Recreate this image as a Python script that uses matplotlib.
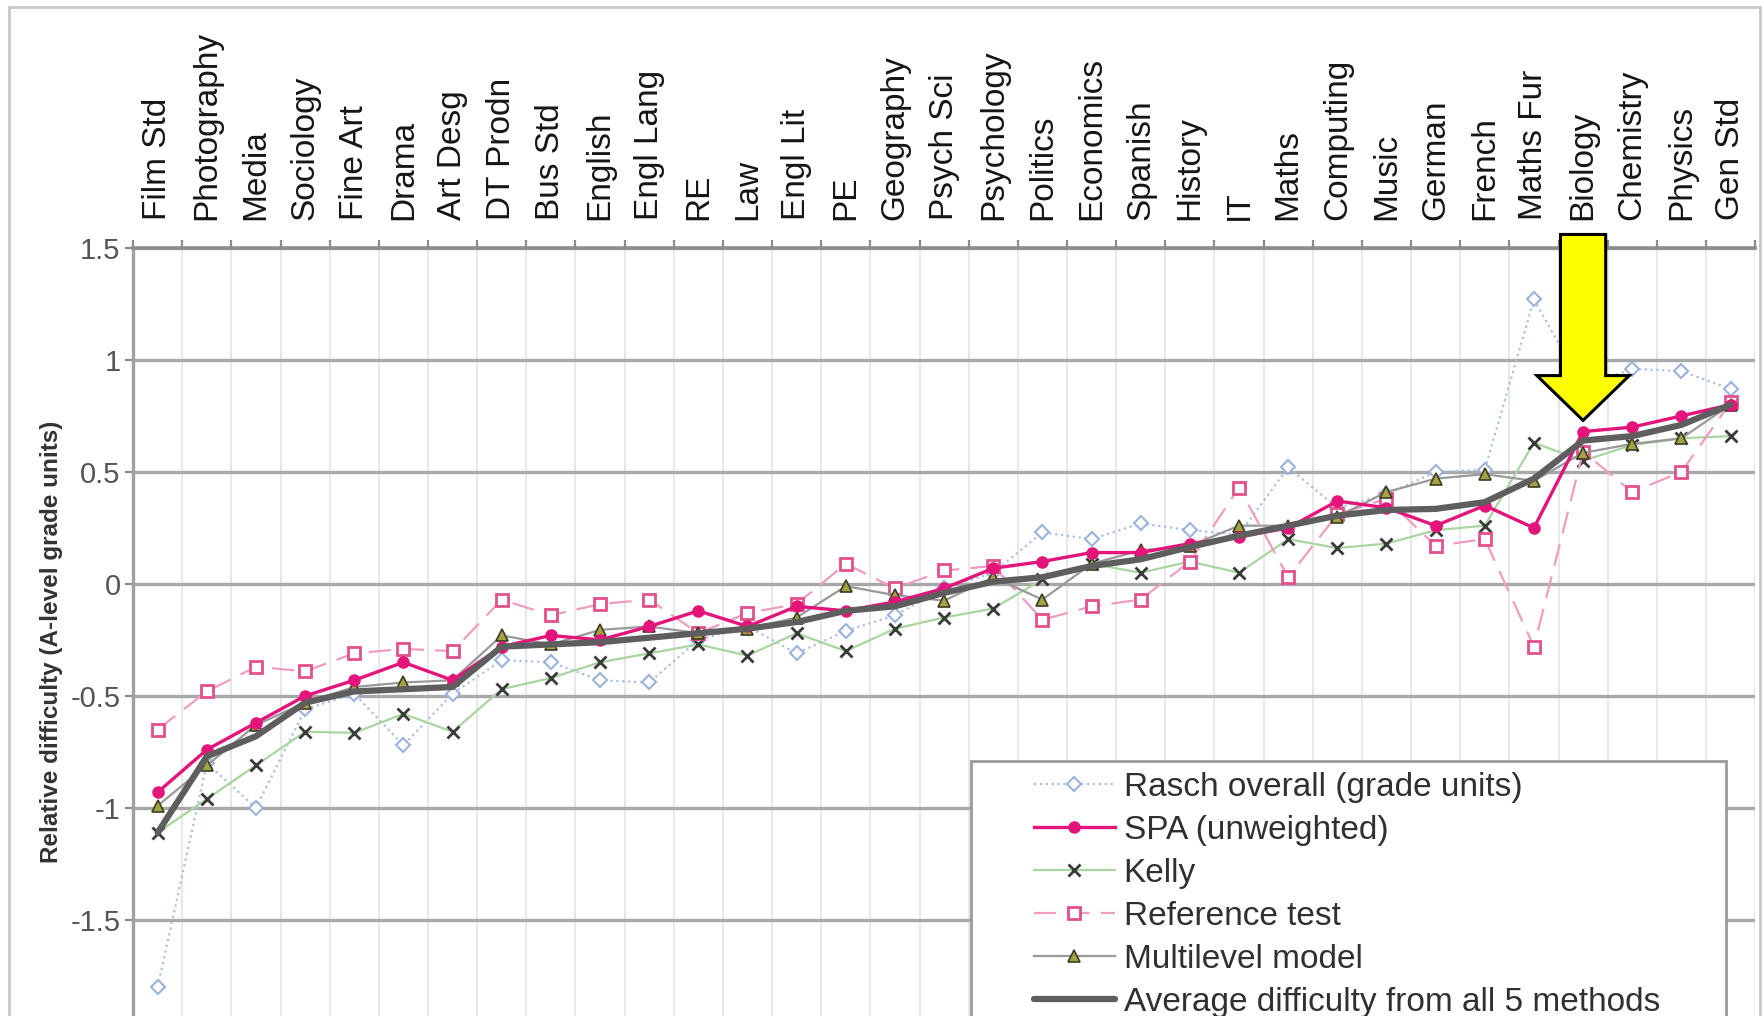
import numpy as np
import matplotlib
matplotlib.use('Agg')
import matplotlib.pyplot as plt
from matplotlib.patches import Rectangle, FancyArrow

plt.rcParams['font.family'] = ['Liberation Sans', 'DejaVu Sans']

# Subjects, easiest to hardest
subjects = ["Film Std", "Photography", "Media", "Sociology", "Fine Art", "Drama",
            "Art Desg", "DT Prodn", "Bus Std", "English", "Engl Lang", "RE", "Law",
            "Engl Lit", "PE", "Geography", "Psych Sci", "Psychology", "Politics",
            "Economics", "Spanish", "History", "IT", "Maths", "Computing", "Music",
            "German", "French", "Maths Fur", "Biology", "Chemistry", "Physics", "Gen Std"]

rasch = [-1.80, -0.80, -1.00, -0.56, -0.49, -0.72, -0.49, -0.34, -0.35, -0.43, -0.44,
         -0.25, -0.19, -0.31, -0.21, -0.14, -0.02, 0.05, 0.23, 0.20, 0.27, 0.24, 0.22,
         0.52, 0.34, 0.40, 0.50, 0.51, 1.27, 0.88, 0.96, 0.95, 0.87]
spa = [-0.93, -0.74, -0.62, -0.50, -0.43, -0.35, -0.43, -0.28, -0.23, -0.25, -0.19,
       -0.12, -0.19, -0.10, -0.12, -0.08, -0.02, 0.07, 0.10, 0.14, 0.14, 0.18, 0.21,
       0.25, 0.37, 0.34, 0.26, 0.35, 0.25, 0.68, 0.70, 0.75, 0.80]
kelly = [-1.11, -0.96, -0.81, -0.66, -0.665, -0.58, -0.66, -0.47, -0.42, -0.35, -0.31,
         -0.27, -0.32, -0.22, -0.30, -0.20, -0.15, -0.11, 0.02, 0.09, 0.05, 0.10, 0.05,
         0.20, 0.16, 0.18, 0.24, 0.26, 0.63, 0.55, 0.62, 0.65, 0.66]
reference = [-0.65, -0.48, -0.37, -0.39, -0.31, -0.29, -0.30, -0.07, -0.14, -0.09, -0.07,
             -0.22, -0.13, -0.09, 0.09, -0.02, 0.06, 0.08, -0.16, -0.10, -0.07, 0.10, 0.43,
             0.03, 0.31, 0.38, 0.17, 0.20, -0.28, 0.59, 0.41, 0.50, 0.81]
multilevel = [-0.99, -0.81, -0.63, -0.53, -0.46, -0.44, -0.43, -0.23, -0.27, -0.205, -0.19,
              -0.22, -0.20, -0.15, -0.01, -0.05, -0.075, 0.03, -0.07, 0.09, 0.15, 0.17, 0.26,
              0.26, 0.30, 0.41, 0.47, 0.49, 0.46, 0.585, 0.625, 0.65, 0.80]
average = [-1.11, -0.77, -0.68, -0.53, -0.48, -0.47, -0.46, -0.28, -0.27, -0.26, -0.24,
           -0.22, -0.20, -0.17, -0.12, -0.10, -0.04, 0.01, 0.03, 0.08, 0.11, 0.165, 0.215,
           0.26, 0.305, 0.33, 0.335, 0.365, 0.47, 0.64, 0.66, 0.71, 0.80]

y_ticks = [1.5, 1, 0.5, 0, -0.5, -1, -1.5]
y_tick_labels = ["1.5", "1", "0.5", "0", "-0.5", "-1", "-1.5"]
highlight = "Biology"

x = np.arange(len(subjects))

fig = plt.figure(figsize=(17.65, 10.16), dpi=100)
# plot area runs off the bottom of the picture (cropped screenshot)
ax = fig.add_axes([0.0754, -0.0157, 0.919, 0.7717])

ax.plot(x, rasch, color='#A9C0E0', lw=1.6, ls=':', marker='D', ms=7,
        mfc='white', mec='#9AB3DA', mew=1.5, label='Rasch overall (grade units)', zorder=3)
ax.plot(x, spa, color='#E3147A', lw=2.4, marker='o', ms=8,
        mfc='#E3147A', mec='#E3147A', label='SPA (unweighted)', zorder=4)
ax.plot(x, kelly, color='#A8D5A0', lw=1.6, marker='x', ms=9,
        mec='#3A3A3A', mew=2, label='Kelly', zorder=3)
ax.plot(x, reference, color='#F09CBE', lw=1.6, ls=(0, (10, 5)), marker='s', ms=9,
        mfc='white', mec='#E2508C', mew=2, label='Reference test', zorder=3)
ax.plot(x, multilevel, color='#999999', lw=1.6, marker='^', ms=8,
        mfc='#A3A345', mec='#3C3C20', mew=1.2, label='Multilevel model', zorder=3)
ax.plot(x, average, color='#5E5E5E', lw=4.5, solid_capstyle='round',
        label='Average difficulty from all 5 methods', zorder=5)

ax.set_xlim(-0.5, len(subjects) - 0.5)
ax.set_ylim(-2, 1.5)

# category axis on top
ax.xaxis.tick_top()
ax.set_xticks(x)
ax.set_xticklabels(subjects, rotation=90, fontsize=24, color='#151515')
ax.set_xticks(np.arange(-0.5, len(subjects)), minor=True)
ax.tick_params(axis='x', which='major', length=0, pad=20)
ax.tick_params(axis='x', which='minor', length=6, width=1.6, color='#8A8A8A',
               direction='out', top=True, bottom=False)

ax.set_yticks(y_ticks)
ax.set_yticklabels(y_tick_labels, fontsize=21, color='#555555')
ax.tick_params(axis='y', length=6, width=1.6, color='#8A8A8A', pad=3)

ax.grid(which='minor', axis='x', color='#E8E8E8', lw=1.5)
ax.grid(which='major', axis='y', color='#A8A8A8', lw=2.4)
ax.set_axisbelow(True)

for side in ['right', 'bottom']:
    ax.spines[side].set_visible(False)
ax.spines['top'].set_color('#8C8C8C')
ax.spines['top'].set_linewidth(2.6)
ax.spines['left'].set_color('#A0A0A0')
ax.spines['left'].set_linewidth(2.4)

# yellow arrow pointing at Biology
bx = subjects.index(highlight)
arrow = FancyArrow(bx, 1.56, 0, -0.83, width=0.92, head_width=1.88, head_length=0.20,
                   length_includes_head=True, fc='#FFFF00', ec='black', lw=2.2,
                   clip_on=False, zorder=10)
ax.add_patch(arrow)

fig.text(0.029, 0.368, 'Relative difficulty (A-level grade units)', rotation=90,
         fontsize=17.5, fontweight='bold', color='#333333', ha='center', va='center')

# legend box (cut by the bottom edge, as in the source screenshot)
fig.add_artist(Rectangle((971 / 1765, -0.1), (1726 - 971) / 1765, 0.1 + (1016 - 761) / 1016,
                         transform=fig.transFigure, fc='white', ec='#9A9A9A', lw=2, zorder=6))
handles, labels = ax.get_legend_handles_labels()
fig.legend(handles, labels, loc='upper left', bbox_to_anchor=(1017 / 1765, 0.257),
           frameon=False, fontsize=24, borderpad=0, labelspacing=0.36,
           handlelength=2.45, handletextpad=0.25, labelcolor='#303030').set_zorder(7)

# outer chart border
fig.add_artist(Rectangle((9 / 1765, -0.1), (1760 - 9) / 1765, 0.1 + (1016 - 7) / 1016,
                         transform=fig.transFigure, fill=False, ec='#C8C8C8', lw=2, zorder=8))

fig.savefig('out.png', dpi=100)
